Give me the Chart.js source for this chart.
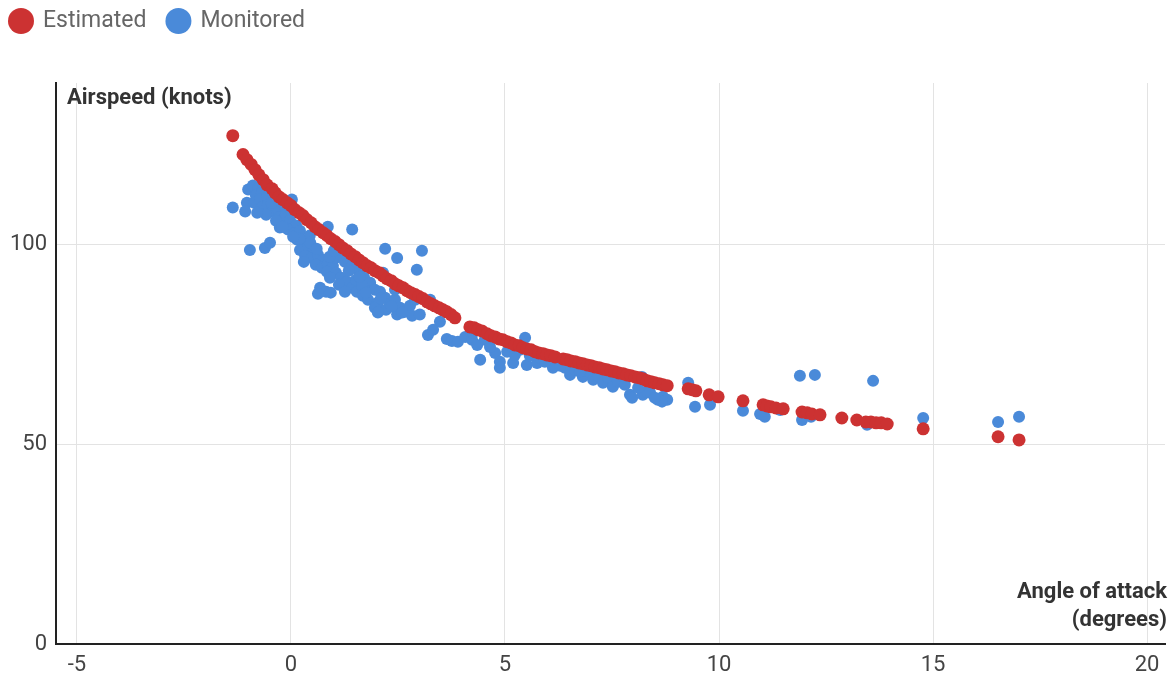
<!DOCTYPE html>
<html>
<head>
<meta charset="utf-8">
<script src="https://cdn.jsdelivr.net/npm/chart.js@4.4.0/dist/chart.umd.min.js"></script>
<style>
  body { margin: 0; background: #fff; }
</style>
</head>
<body>
<canvas id="aoaChart" width="1175" height="678"></canvas>
<script>
// Estimated airspeed curve (angle of attack in degrees, airspeed in knots)
const estAoa = [
  -1.36, -1.12, -1.03, -0.93, -0.84, -0.75, -0.65, -0.56, -0.44, -0.37, -0.28, -0.19, -0.09, 0.00, 0.09, 0.19, 0.28, 0.37, 0.47, 0.56,
  0.65, 0.75, 0.84, 0.93, 1.03, 1.12, 1.21, 1.31, 1.40, 1.50, 1.59, 1.68, 1.78, 1.87, 1.96, 2.06, 2.15, 2.24, 2.34, 2.43,
  2.52, 2.62, 2.71, 2.80, 2.90, 2.99, 3.08, 3.18, 3.27, 3.36, 3.46, 3.55, 3.64, 3.74, 3.83,
  4.18, 4.28, 4.37, 4.46,
  4.58, 4.67, 4.77, 4.86, 4.95, 5.05, 5.14, 5.23, 5.33, 5.42, 5.51, 5.61, 5.70, 5.79, 5.89, 5.98, 6.07, 6.17,
  6.36, 6.45, 6.54, 6.64, 6.73, 6.82, 6.92, 7.01, 7.10, 7.20, 7.29, 7.38, 7.48, 7.57, 7.66, 7.76, 7.85, 7.94, 8.04, 8.13,
  8.22, 8.32, 8.41, 8.50, 8.60, 8.69, 8.79,
  9.28, 9.37, 9.46, 9.77, 9.98, 10.56, 11.03, 11.12, 11.21, 11.33, 11.50, 11.94, 12.06, 12.17, 12.36, 12.87, 13.22, 13.43, 13.55, 13.67,
  13.79, 13.93, 14.77, 16.52, 17.01
]
const estSpeed = [
  127.3, 122.6, 121.3, 120.1, 118.8, 117.5, 116.3, 115.0, 114.0, 113.0, 112.0, 111.3, 110.5, 109.8, 108.8, 108.0, 107.3, 106.3, 105.5, 104.5,
  103.8, 103.0, 102.3, 101.5, 100.8, 100.0, 99.2, 98.5, 97.7, 97.0, 96.2, 95.5, 94.7, 94.2, 93.5, 93.0, 92.2, 91.5, 91.0, 90.2,
  89.7, 89.2, 88.5, 88.0, 87.5, 87.0, 86.5, 85.7, 85.2, 84.7, 84.2, 83.7, 83.2, 82.5, 81.7,
  79.4, 79.2, 78.7, 78.4,
  77.7, 77.2, 76.9, 76.4, 76.2, 75.7, 75.4, 74.9, 74.7, 74.2, 73.9, 73.7, 73.2, 72.9, 72.7, 72.4, 72.2, 71.9,
  71.4, 71.2, 70.9, 70.7, 70.4, 70.2, 69.9, 69.7, 69.4, 69.2, 68.9, 68.7, 68.4, 68.2, 67.9, 67.7, 67.4, 67.2, 66.9, 66.7,
  66.4, 65.9, 65.7, 65.4, 65.2, 64.9, 64.7,
  63.9, 63.7, 63.4, 62.4, 61.9, 60.9, 59.9, 59.6, 59.4, 59.1, 58.9, 58.1, 57.9, 57.6, 57.4, 56.6, 56.1, 55.6, 55.6, 55.4,
  55.4, 55.1, 53.9, 51.9, 51.1
]

// Monitored readings
const monAoa = [
  -1.36, -1.03, -1.07, -0.96, -0.61, -0.49, -1.00, -0.89, -0.77, -0.65, -0.82, -0.68, -0.54, -0.86, -0.72, -0.56, -0.42, -0.68, -0.54, -0.40,
  -0.26, -0.44, -0.30, -0.14, 0.02, -0.28, -0.12, 0.00, -0.16, -0.02, 0.12, -0.07, 0.07, 0.21, -0.26, -0.58, -0.79,
  0.14, 0.28, 0.21, 0.40, 0.51, 0.33, 0.49, 0.63, 0.75, 0.58, 0.72, 0.86, 0.98, 0.84, 1.05, 0.91, 1.17, 1.31, 1.12, 1.43,
  0.68, 0.82, 0.63, 0.93, 1.54, 1.68, 1.80, 0.86, 0.77, 1.43, 0.44, 1.26, 1.43, 1.14, 1.59, 1.71, 1.85, 1.52, 1.26, 1.66,
  1.96, 0.30, 1.03,
  2.20, 2.48, 3.06, 2.94, 2.15,
  2.08, 2.20, 2.03, 2.31, 2.43, 2.55, 2.22, 2.66, 2.78, 2.48, 2.83, 1.96, 2.03, 3.25, 3.48, 3.20, 3.32, 3.64, 3.76, 3.90,
  3.01, 2.90, 2.43,
  4.07, 4.23, 4.35, 4.42, 4.25, 4.77, 4.88, 4.88, 5.19, 5.47, 5.35, 5.51, 5.75, 6.12, 5.05, 5.23, 5.58, 5.82, 5.93, 5.12,
  4.65, 4.53, 6.00,
  6.40, 6.52, 6.64, 6.82, 6.94, 7.06, 7.17, 7.29, 7.41, 7.52, 7.64, 7.80, 7.92, 7.97, 8.22, 8.20, 8.32, 8.57, 8.69, 8.79,
  8.11, 6.75, 6.29, 8.39,
  9.28, 9.44, 9.79, 10.56, 11.07, 10.96, 11.89, 12.24, 11.94, 12.15, 13.60, 13.46, 14.77, 16.52, 17.01, 8.67, 8.50, 11.43,
  0.45, 0.60, 0.90, 1.00, 0.20, -0.35, -0.20, 1.60, 1.75, 2.10, 2.60, 2.35, 0.05, -0.45, 1.35
]
const monSpeed = [
  109.3, 110.5, 108.3, 98.7, 99.2, 100.5, 113.8, 114.8, 114.0, 115.0, 112.3, 113.0, 113.8, 110.5, 111.3, 111.8, 112.3, 109.3, 110.0, 110.5,
  111.3, 108.3, 108.8, 109.5, 111.3, 106.8, 107.5, 108.3, 105.5, 106.0, 104.8, 103.8, 102.8, 103.5, 104.3, 107.5, 108.0,
  101.3, 100.3, 98.7, 99.5, 98.2, 97.2, 96.7, 97.5, 96.2, 95.0, 94.2, 95.2, 94.7, 93.2, 93.0, 91.7, 91.7, 90.7, 90.0, 89.2,
  89.2, 88.2, 87.7, 88.0, 88.2, 87.2, 86.2, 104.5, 103.3, 103.8, 102.3, 95.7, 94.7, 97.5, 93.2, 91.7, 90.5, 91.2, 88.2, 89.7,
  88.7, 95.7, 96.7,
  99.0, 96.7, 98.5, 93.7, 93.0,
  88.2, 86.7, 85.5, 85.0, 86.2, 84.2, 83.7, 83.2, 84.7, 82.5, 82.2, 84.2, 83.0, 86.2, 80.7, 77.4, 78.7, 76.4, 75.9, 75.7,
  82.5, 86.2, 88.7,
  76.9, 76.2, 74.9, 71.2, 77.9, 72.9, 70.7, 69.2, 70.4, 76.7, 73.7, 69.9, 70.4, 69.2, 73.2, 72.4, 72.2, 71.7, 70.7, 74.7,
  74.4, 76.2, 71.9,
  69.2, 67.4, 68.7, 66.9, 68.2, 66.2, 67.2, 65.4, 66.7, 64.4, 65.7, 64.9, 62.4, 61.7, 62.4, 66.9, 63.2, 61.2, 61.9, 61.2,
  64.2, 68.2, 69.7, 62.9,
  65.4, 59.4, 59.9, 58.4, 56.9, 57.6, 67.2, 67.4, 56.1, 56.9, 65.9, 54.9, 56.6, 55.6, 56.9, 60.7, 61.7, 58.6,
  100.5, 99.0, 97.0, 98.5, 101.5, 106.0, 104.5, 92.0, 88.0, 86.5, 83.0, 84.5, 102.0, 110.5, 93.5
]

const seriesNames = ['Estimated', 'Monitored']
const seriesColors = ['#cc3232', '#4a8ad9']
const xTicks = [-5, 0, 5, 10, 15, 20]
const yTicks = [0, 50, 100]
const yTitle = 'Airspeed (knots)'
const xTitle = ['Angle of attack', '(degrees)']

const toPoints = (xs, ys) => xs.map((x, i) => ({ x: x, y: ys[i] }))

// legend and axis titles sit inside the plot, so they are drawn by hand
const titlesPlugin = {
  id: 'titles',
  afterDraw(chart) {
    const { ctx, chartArea } = chart
    ctx.save()
    ctx.textBaseline = 'middle'
    ctx.textAlign = 'left'
    ctx.font = '23px Roboto'
    let x = 8
    chart.data.datasets.forEach(ds => {
      ctx.fillStyle = ds.backgroundColor
      ctx.beginPath()
      ctx.arc(x + 13, 21, 13, 0, Math.PI * 2)
      ctx.fill()
      ctx.fillStyle = '#666'
      ctx.fillText(ds.label, x + 35, 21)
      x += 35 + ctx.measureText(ds.label).width + 19
    })

    ctx.font = 'bold 22px Roboto'
    ctx.fillStyle = '#333'
    ctx.fillText(yTitle, chartArea.left + 11, chartArea.top + 15)

    ctx.textAlign = 'right'
    xTitle.forEach((line, i) => {
      ctx.fillText(line, chartArea.right + 2, chartArea.bottom - 52 + i * 28)
    })
    ctx.restore()
  }
}

const ctxAoa = document.getElementById('aoaChart').getContext('2d')

const aoaChart = new Chart(ctxAoa, {
  type: 'scatter',
  data: {
    datasets: [{
      label: seriesNames[0],
      data: toPoints(estAoa, estSpeed),
      backgroundColor: seriesColors[0],
      borderWidth: 0,
      pointRadius: 6.5,
    }, {
      label: seriesNames[1],
      data: toPoints(monAoa, monSpeed),
      backgroundColor: seriesColors[1],
      borderWidth: 0,
      pointRadius: 6,
    }],
  },
  options: {
    responsive: false,
    animation: false,
    layout: {
      padding: { top: 83, right: 10, left: 0, bottom: 0 }
    },
    plugins: {
      legend: { display: false },
      tooltip: { enabled: false },
    },
    scales: {
      x: {
        type: 'linear',
        min: -5.49,
        max: 20.42,
        afterBuildTicks: axis => { axis.ticks = xTicks.map(v => ({ value: v })) },
        afterFit: axis => { axis.height = 34 },
        grid: { color: '#e3e3e3', drawTicks: false },
        border: { color: '#222', width: 2 },
        ticks: {
          color: '#444',
          padding: 8,
          font: { family: 'Roboto', size: 22 },
        },
      },
      y: {
        min: 0,
        max: 140.5,
        afterBuildTicks: axis => { axis.ticks = yTicks.map(v => ({ value: v })) },
        afterFit: axis => { axis.width = 56 },
        grid: { color: '#e3e3e3', drawTicks: false },
        border: { color: '#222', width: 2 },
        ticks: {
          color: '#444',
          padding: 9,
          font: { family: 'Roboto', size: 22 },
        },
      },
    },
  },
  plugins: [titlesPlugin],
})
</script>
</body>
</html>
